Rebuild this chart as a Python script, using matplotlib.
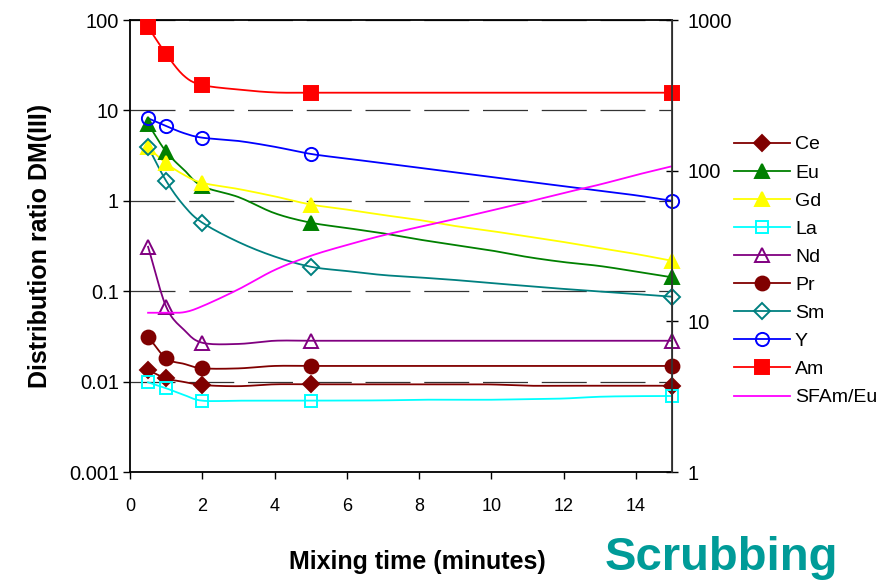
import numpy as np
import matplotlib
matplotlib.use("Agg")
import matplotlib.pyplot as plt
from matplotlib.ticker import FixedLocator, FuncFormatter, NullLocator

plt.rcParams['font.family'] = ['Liberation Sans', 'DejaVu Sans']

# 測定点（マーカー位置）
t_mark = [0.5, 1, 2, 5, 15]
# 線の点（分）
t_line = [0.5, 1, 1.5, 2, 3, 4, 5, 6, 7, 8, 9, 10, 11, 12, 13, 14, 15]

Ce_mark = [0.0134, 0.01086, 0.00916, 0.00933, 0.0090]
Ce_line = [0.0134, 0.01086, 0.0099, 0.00916, 0.0089, 0.00933, 0.00933, 0.00933, 0.00933,
           0.00933, 0.00933, 0.0093, 0.0090, 0.0090, 0.0090, 0.0090, 0.0090]
Eu_mark = [7.08, 3.49, 1.45, 0.573, 0.1425]
Eu_line = [7.08, 3.49, 2.19, 1.45, 1.10, 0.73, 0.573, 0.50, 0.437, 0.373, 0.324, 0.282,
           0.239, 0.210, 0.190, 0.165, 0.1425]
Gd_mark = [3.9, 2.60, 1.58, 0.91, 0.217]
Gd_line = [3.9, 2.60, 1.93, 1.58, 1.35, 1.12, 0.91, 0.80, 0.697, 0.614, 0.526, 0.463,
           0.403, 0.350, 0.300, 0.258, 0.217]
La_mark = [0.00982, 0.00844, 0.00615, 0.00615, 0.00693]
La_line = [0.00982, 0.00844, 0.0071, 0.00615, 0.00615, 0.00615, 0.00615, 0.00618, 0.0062,
           0.0063, 0.0063, 0.0063, 0.0064, 0.0065, 0.0068, 0.0069, 0.00693]
Nd_mark = [0.31, 0.0675, 0.0269, 0.0283, 0.0283]
Nd_line = [0.31, 0.0675, 0.0372, 0.0269, 0.0261, 0.0283, 0.0283, 0.0283, 0.0283, 0.0283,
           0.0283, 0.0283, 0.0283, 0.0283, 0.0283, 0.0283, 0.0283]
Pr_mark = [0.0314, 0.0181, 0.01403, 0.0149, 0.0149]
Pr_line = [0.0314, 0.0181, 0.0157, 0.01403, 0.0140, 0.0149, 0.0149, 0.0149, 0.0149, 0.0149,
           0.0149, 0.0149, 0.0149, 0.0149, 0.0149, 0.0149, 0.0149]
Sm_mark = [3.96, 1.66, 0.573, 0.1866, 0.0869]
Sm_line = [3.96, 1.66, 0.876, 0.573, 0.350, 0.242, 0.1866, 0.167, 0.151, 0.142, 0.133,
           0.123, 0.114, 0.106, 0.0993, 0.0931, 0.0869]
Y_mark = [8.18, 6.71, 4.99, 3.30, 1.0]
Y_line = [8.18, 6.71, 5.59, 4.99, 4.59, 3.96, 3.30, 2.93, 2.61, 2.32, 2.06, 1.83, 1.63,
          1.45, 1.29, 1.15, 1.0]
Am_mark = [83.7, 42, 19.1, 15.7, 15.7]
Am_line = [83.7, 42, 24, 19.1, 17.0, 15.8, 15.7, 15.7, 15.7, 15.7, 15.7, 15.7, 15.7, 15.7,
           15.7, 15.7, 15.7]
# 分離係数（右軸）
SF_line = [11.4, 11.4, 11.5, 12.6, 16.3, 21.9, 27.2, 32.1, 37.2, 42.3, 47.8, 54.4, 62.0,
           71.1, 80.9, 93.5, 107]

left_ticks = [0.001, 0.01, 0.1, 1, 10, 100]
right_ticks = [1, 10, 100, 1000]
x_ticks = [0, 2, 4, 6, 8, 10, 12, 14]


def smooth(x, y, n=12):
    # Excel風のなめらかな線（対数空間でCatmull-Rom）
    x = np.asarray(x, float)
    ly = np.log10(np.asarray(y, float))
    P = np.column_stack([x, ly])
    P = np.vstack([P[0] - (P[1] - P[0]), P, P[-1] + (P[-1] - P[-2])])
    out = []
    s = np.linspace(0, 1, n, endpoint=False)[:, None]
    for i in range(1, len(P) - 2):
        p0, p1, p2, p3 = P[i - 1], P[i], P[i + 1], P[i + 2]
        seg = 0.5 * ((2 * p1) + (-p0 + p2) * s + (2 * p0 - 5 * p1 + 4 * p2 - p3) * s ** 2
                     + (-p0 + 3 * p1 - 3 * p2 + p3) * s ** 3)
        out.append(seg)
    out.append(P[-2][None, :])
    out = np.vstack(out)
    return out[:, 0], 10 ** out[:, 1]


fig = plt.figure(figsize=(8.79, 5.85), dpi=100)
ax = fig.add_axes([130 / 879, 1 - 472 / 585, 542 / 879, 452 / 585])
ax2 = ax.twinx()

series = [
    ("Ce", Ce_line, Ce_mark, "#800000", "D", "#800000", 8),
    ("Eu", Eu_line, Eu_mark, "#008000", "^", "#008000", 10),
    ("Gd", Gd_line, Gd_mark, "#FFFF00", "^", "#FFFF00", 10),
    ("La", La_line, La_mark, "#00FFFF", "s", "none", 9),
    ("Nd", Nd_line, Nd_mark, "#800080", "^", "none", 10),
    ("Pr", Pr_line, Pr_mark, "#800000", "o", "#800000", 10),
    ("Sm", Sm_line, Sm_mark, "#008080", "D", "none", 8),
    ("Y", Y_line, Y_mark, "#0000FF", "o", "none", 9.5),
    ("Am", Am_line, Am_mark, "#FF0000", "s", "#FF0000", 10),
]

handles = []
for name, yl, ym, c, mk, fc, ms in series:
    xs, ys = smooth(t_line, yl)
    ax.plot(xs, ys, color=c, lw=1.3, zorder=3)
    ax.plot(t_mark, ym, ls="none", marker=mk, ms=ms, mfc=fc, mec=c, mew=1.4,
            zorder=4, clip_on=False)
    h, = ax.plot([], [], color=c, lw=1.3, marker=mk, ms=ms, mfc=fc, mec=c, mew=1.4)
    handles.append(h)

xs, ys = smooth(t_line, SF_line)
ax2.plot(xs, ys, color="#FF00FF", lw=1.3)
h, = ax2.plot([], [], color="#FF00FF", lw=1.3)
handles.append(h)
labels = [s[0] for s in series] + ["SFAm/Eu"]

ax.set_xlim(0, 15)
ax.set_yscale("log")
ax.set_ylim(0.001, 100)
ax2.set_yscale("log")
ax2.set_ylim(1, 1000)

ax.xaxis.set_major_locator(FixedLocator(x_ticks))
ax.yaxis.set_major_locator(FixedLocator(left_ticks))
ax.yaxis.set_minor_locator(NullLocator())
ax.yaxis.set_major_formatter(FuncFormatter(lambda v, p: "%g" % v))
ax2.yaxis.set_major_locator(FixedLocator(right_ticks))
ax2.yaxis.set_minor_locator(NullLocator())
ax2.yaxis.set_major_formatter(FuncFormatter(lambda v, p: "%g" % v))

ax.tick_params(axis="y", direction="out", length=5, width=1, labelsize=14.5, pad=3)
ax.tick_params(axis="x", direction="out", length=5, width=1, labelsize=13, pad=14)
ax2.tick_params(axis="y", direction="inout", length=9, width=1, labelsize=14.5, pad=7)

ax.grid(axis="y", color="#333333", lw=0.9, linestyle=(0, (36, 11)))
ax.set_axisbelow(True)
for sp in ["left", "bottom", "top"]:
    ax.spines[sp].set_linewidth(1.3)
    ax.spines[sp].set_color("black")
ax2.spines["right"].set_color("#333333")
ax2.spines["right"].set_linewidth(1.3)
for sp in ["left", "bottom", "top"]:
    ax2.spines[sp].set_visible(False)

ax.set_ylabel("Distribution ratio DM(III)", fontsize=18, fontweight="bold", labelpad=12)
fig.text(417 / 879, 1 - 562 / 585, "Mixing time (minutes)", fontsize=18,
         fontweight="bold", ha="center", va="center")
fig.text(721 / 879, 1 - 558 / 585, "Scrubbing", fontsize=34, fontweight="bold",
         color="#009b98", ha="center", va="center")

fig.legend(handles, labels, loc="upper left", bbox_to_anchor=(726 / 879, 1 - 128 / 585),
           frameon=False, fontsize=14, handlelength=2.9, handletextpad=0.25,
           labelspacing=0.54, borderaxespad=0)

fig.savefig("out.png", dpi=100)
